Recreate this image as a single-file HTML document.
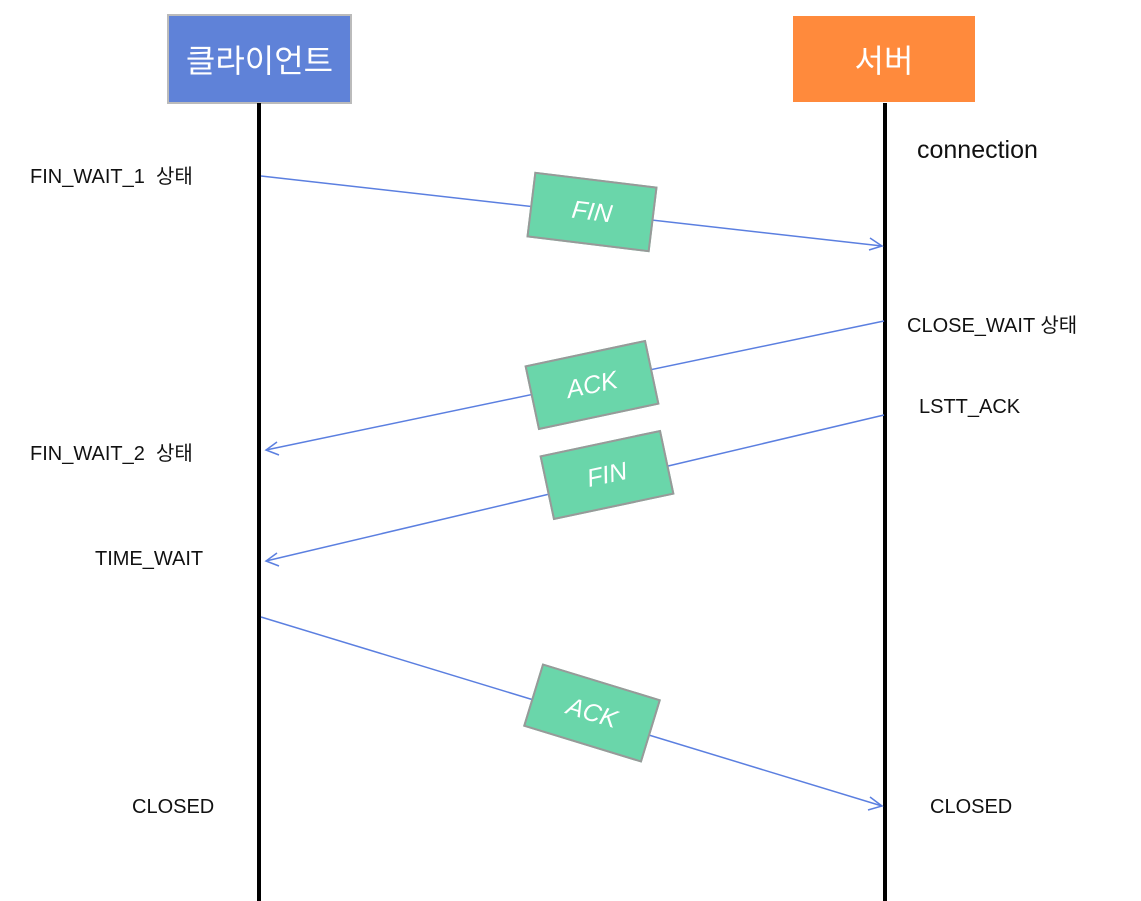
<!DOCTYPE html>
<html><head><meta charset="utf-8"><style>
body{margin:0;width:1141px;height:901px;background:#fff;overflow:hidden;position:relative;font-family:"Liberation Sans","Noto Sans CJK KR",sans-serif}
.t{position:absolute;font-size:20px;color:#111;white-space:nowrap}
.hd{position:absolute;color:#fff;font-size:32px;display:flex;align-items:center;justify-content:center;box-sizing:border-box;border:2px solid #bbb}
.m{position:absolute;width:124px;height:66px;background:#6ad6aa;border:2px solid #999;box-sizing:border-box;color:#fff;font-size:25px;font-style:italic;display:flex;align-items:center;justify-content:center}
</style></head><body>
<div class="hd" style="left:167px;top:14px;width:185px;height:90px;background:#5f82d8">클라이언트</div>
<div class="hd" style="left:791px;top:14px;width:186px;height:90px;background:#ff8a3c;border-color:#fff">서버</div>
<svg width="1141" height="901" style="position:absolute;left:0;top:0">
<line x1="259" y1="103" x2="259" y2="901" stroke="#000" stroke-width="4"/>
<line x1="885" y1="103" x2="885" y2="901" stroke="#000" stroke-width="4"/>
<g stroke="#5b7fe0" stroke-width="1.5" fill="none">
<line x1="261" y1="176" x2="882" y2="246"/><polyline points="870,238 882,246 869,250"/>
<line x1="884" y1="321" x2="266" y2="450"/><polyline points="277,442 266,450 279,455"/>
<line x1="884" y1="415" x2="266" y2="561"/><polyline points="277,553 266,561 279,566"/>
<line x1="261" y1="617" x2="882" y2="806"/><polyline points="870,797 882,806 868,810"/>
</g></svg>
<div class="m" style="left:530px;top:179px;transform:rotate(7deg)">FIN</div>
<div class="m" style="left:530px;top:352px;transform:rotate(-12deg)">ACK</div>
<div class="m" style="left:545px;top:442px;transform:rotate(-12deg)">FIN</div>
<div class="m" style="left:530px;top:680px;transform:rotate(17deg)">ACK</div>
<div class="t" style="left:30px;top:160px">FIN_WAIT_1&nbsp; 상태</div>
<div class="t" style="left:917px;top:136px;font-size:25px">connection</div>
<div class="t" style="left:907px;top:309px">CLOSE_WAIT 상태</div>
<div class="t" style="left:919px;top:396px">LSTT_ACK</div>
<div class="t" style="left:30px;top:437px">FIN_WAIT_2&nbsp; 상태</div>
<div class="t" style="left:95px;top:548px">TIME_WAIT</div>
<div class="t" style="left:132px;top:796px">CLOSED</div>
<div class="t" style="left:930px;top:796px">CLOSED</div>
</body></html>
